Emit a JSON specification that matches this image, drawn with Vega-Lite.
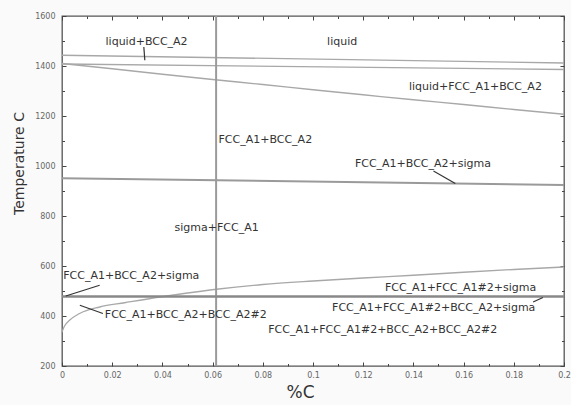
{
  "$schema": "https://vega.github.io/schema/vega-lite/v6.json",
  "width": 502,
  "height": 350,
  "autosize": "none",
  "padding": {"left": 62, "top": 16, "right": 7, "bottom": 39},
  "background": "#fafafa",
  "config": {
    "view": {"stroke": "#555555", "strokeWidth": 1.3, "fill": "#ffffff"},
    "font": "DejaVu Sans"
  },
  "datasets": {
    "lines": [
      {"s": "b1", "x": 0, "t": 1443}, {"s": "b1", "x": 0.2, "t": 1412},
      {"s": "b2", "x": 0, "t": 1408}, {"s": "b2", "x": 0.2, "t": 1386},
      {"s": "b3", "x": 0, "t": 1410}, {"s": "b3", "x": 0.02, "t": 1389}, {"s": "b3", "x": 0.04, "t": 1367},
      {"s": "b3", "x": 0.06, "t": 1346}, {"s": "b3", "x": 0.08, "t": 1326}, {"s": "b3", "x": 0.1, "t": 1305},
      {"s": "b3", "x": 0.12, "t": 1285}, {"s": "b3", "x": 0.14, "t": 1265}, {"s": "b3", "x": 0.16, "t": 1246},
      {"s": "b3", "x": 0.18, "t": 1226}, {"s": "b3", "x": 0.2, "t": 1207},
      {"s": "v", "x": 0.0614, "t": 200}, {"s": "v", "x": 0.0614, "t": 1600},
      {"s": "b4", "x": 0, "t": 951}, {"s": "b4", "x": 0.2, "t": 924},
      {"s": "b5", "x": 0, "t": 478}, {"s": "b5", "x": 0.2, "t": 478},
      {"s": "b6", "x": 0, "t": 336}, {"s": "b6", "x": 0.001, "t": 360}, {"s": "b6", "x": 0.003, "t": 383},
      {"s": "b6", "x": 0.007, "t": 410}, {"s": "b6", "x": 0.015, "t": 436}, {"s": "b6", "x": 0.025, "t": 453},
      {"s": "b6", "x": 0.039, "t": 476}, {"s": "b6", "x": 0.05, "t": 492}, {"s": "b6", "x": 0.0615, "t": 507},
      {"s": "b6", "x": 0.08, "t": 526}, {"s": "b6", "x": 0.1, "t": 540}, {"s": "b6", "x": 0.12, "t": 552},
      {"s": "b6", "x": 0.14, "t": 563}, {"s": "b6", "x": 0.16, "t": 575}, {"s": "b6", "x": 0.18, "t": 586},
      {"s": "b6", "x": 0.2, "t": 596},
      {"s": "L1", "x": 0.0326, "t": 1476}, {"s": "L1", "x": 0.033, "t": 1423},
      {"s": "L2", "x": 0.148, "t": 980}, {"s": "L2", "x": 0.1567, "t": 930},
      {"s": "L3", "x": 0.015, "t": 523}, {"s": "L3", "x": 0.0015, "t": 480},
      {"s": "L4", "x": 0.0071, "t": 443}, {"s": "L4", "x": 0.0163, "t": 410},
      {"s": "L5", "x": 0.1877, "t": 456}, {"s": "L5", "x": 0.1916, "t": 474}
    ],
    "labels": [
      {"label": "liquid+BCC_A2", "x": 0.0337, "t": 1495},
      {"label": "liquid", "x": 0.1116, "t": 1496},
      {"label": "liquid+FCC_A1+BCC_A2", "x": 0.1647, "t": 1316},
      {"label": "FCC_A1+BCC_A2", "x": 0.081, "t": 1103},
      {"label": "FCC_A1+BCC_A2+sigma", "x": 0.1438, "t": 1010},
      {"label": "sigma+FCC_A1", "x": 0.0616, "t": 751},
      {"label": "FCC_A1+BCC_A2+sigma", "x": 0.0276, "t": 559},
      {"label": "FCC_A1+BCC_A2+BCC_A2#2", "x": 0.0493, "t": 403},
      {"label": "FCC_A1+FCC_A1#2+sigma", "x": 0.1588, "t": 514},
      {"label": "FCC_A1+FCC_A1#2+BCC_A2+sigma", "x": 0.1481, "t": 434},
      {"label": "FCC_A1+FCC_A1#2+BCC_A2+BCC_A2#2", "x": 0.1278, "t": 346}
    ]
  },
  "resolve": {"axis": {"x": "independent", "y": "independent"}},
  "layer": [
    {
      "data": {"name": "lines"},
      "transform": [{"filter": {"field": "s", "oneOf": ["b1", "b2", "b3", "b6"]}}],
      "mark": {"type": "line", "color": "#a8a8a8", "strokeWidth": 1.3, "interpolate": "monotone"},
      "encoding": {
        "detail": {"field": "s"},
        "x": {
          "field": "x", "type": "quantitative",
          "scale": {"domain": [0, 0.2], "nice": false, "zero": false},
          "axis": {
            "orient": "bottom",
            "values": [0, 0.01, 0.02, 0.03, 0.04, 0.05, 0.06, 0.07, 0.08, 0.09, 0.1, 0.11, 0.12, 0.13, 0.14, 0.15, 0.16, 0.17, 0.18, 0.19, 0.2],
            "format": "~g",
            "labelExpr": "abs(datum.value*50 - round(datum.value*50)) < 0.001 ? datum.label : ''",
            "tickSize": {"condition": {"test": "abs(datum.value*50 - round(datum.value*50)) < 0.001", "value": -4}, "value": -2.5},
            "tickColor": "#444444",
            "labelPadding": 9,
            "labelFontSize": 8,
            "labelColor": "#666666",
            "labelFlush": false,
            "domain": false,
            "grid": false,
            "title": "%C",
            "titleFontSize": 17,
            "titleFontWeight": "normal",
            "titleColor": "#333333",
            "titleX": 238,
            "titleY": 18,
            "titleAlign": "center",
            "titleBaseline": "top"
          }
        },
        "y": {
          "field": "t", "type": "quantitative",
          "scale": {"domain": [200, 1600], "nice": false, "zero": false},
          "axis": {
            "orient": "left",
            "values": [200, 300, 400, 500, 600, 700, 800, 900, 1000, 1100, 1200, 1300, 1400, 1500, 1600],
            "format": "d",
            "labelExpr": "datum.value % 200 == 0 ? datum.label : ''",
            "tickSize": {"condition": {"test": "datum.value % 200 == 0", "value": -4}, "value": -2.5},
            "tickColor": "#444444",
            "labelPadding": 11,
            "labelFontSize": 8,
            "labelColor": "#666666",
            "labelFlush": false,
            "domain": false,
            "grid": false,
            "title": "Temperature C",
            "titleFontSize": 14,
            "titleFontWeight": "normal",
            "titleColor": "#333333",
            "titleAngle": -90,
            "titleX": -39,
            "titleY": 147,
            "titleAlign": "center",
            "titleBaseline": "alphabetic"
          }
        }
      }
    },
    {
      "data": {"name": "lines"},
      "transform": [{"filter": {"field": "s", "oneOf": ["v", "b4"]}}],
      "mark": {"type": "line", "color": "#9a9a9a", "strokeWidth": 2},
      "encoding": {
        "detail": {"field": "s"},
        "x": {"field": "x", "type": "quantitative", "axis": null},
        "y": {"field": "t", "type": "quantitative", "axis": null}
      }
    },
    {
      "data": {"name": "lines"},
      "transform": [{"filter": {"field": "s", "oneOf": ["b5"]}}],
      "mark": {"type": "line", "color": "#888888", "strokeWidth": 2.5},
      "encoding": {
        "detail": {"field": "s"},
        "x": {"field": "x", "type": "quantitative", "axis": null},
        "y": {"field": "t", "type": "quantitative", "axis": null}
      }
    },
    {
      "data": {"name": "lines"},
      "transform": [{"filter": {"field": "s", "oneOf": ["L1", "L2", "L3", "L4", "L5"]}}],
      "mark": {"type": "line", "color": "#333333", "strokeWidth": 1.2},
      "encoding": {
        "detail": {"field": "s"},
        "x": {"field": "x", "type": "quantitative", "axis": null},
        "y": {"field": "t", "type": "quantitative", "axis": null}
      }
    },
    {
      "data": {"name": "labels"},
      "mark": {"type": "text", "fontSize": 11, "color": "#333333", "align": "center", "baseline": "middle", "font": "DejaVu Sans"},
      "encoding": {
        "text": {"field": "label"},
        "x": {
          "field": "x", "type": "quantitative",
          "axis": {
            "orient": "top",
            "values": [0, 0.01, 0.02, 0.03, 0.04, 0.05, 0.06, 0.07, 0.08, 0.09, 0.1, 0.11, 0.12, 0.13, 0.14, 0.15, 0.16, 0.17, 0.18, 0.19, 0.2],
            "labels": false,
            "domain": false,
            "grid": false,
            "tickSize": {"condition": {"test": "abs(datum.value*50 - round(datum.value*50)) < 0.001", "value": -4}, "value": -2.5},
            "tickColor": "#444444",
            "title": null
          }
        },
        "y": {
          "field": "t", "type": "quantitative",
          "axis": {
            "orient": "right",
            "values": [200, 300, 400, 500, 600, 700, 800, 900, 1000, 1100, 1200, 1300, 1400, 1500, 1600],
            "labels": false,
            "domain": false,
            "grid": false,
            "tickSize": {"condition": {"test": "datum.value % 200 == 0", "value": -4}, "value": -2.5},
            "tickColor": "#444444",
            "title": null
          }
        }
      }
    }
  ]
}
